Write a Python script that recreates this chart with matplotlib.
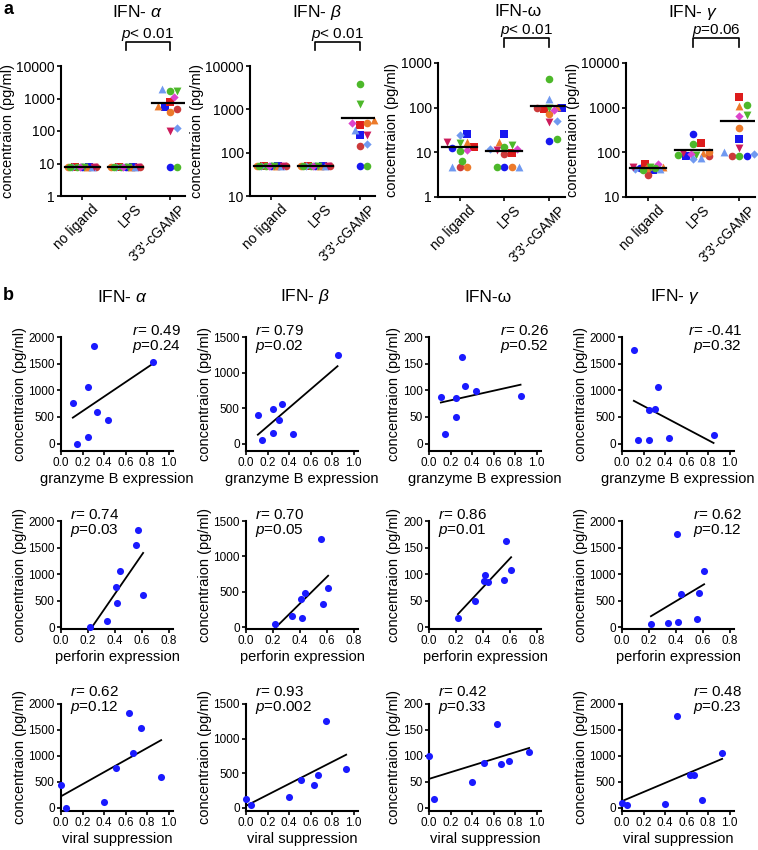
import numpy as np
import matplotlib
matplotlib.use('Agg')
from matplotlib import pyplot as plt
from matplotlib.transforms import blended_transform_factory, ScaledTranslation

plt.rcParams['font.family'] = ['Liberation Sans', 'DejaVu Sans']
plt.rcParams['mathtext.fontset'] = 'custom'
plt.rcParams['mathtext.rm'] = 'Liberation Sans'
plt.rcParams['mathtext.it'] = 'Liberation Sans:italic'
plt.rcParams['axes.linewidth'] = 1.5

W, H = 758, 850

# ---------------- panel a data (13 donors) ----------------
groups = ['no ligand', 'LPS', "3'3'-cGAMP"]
donor_colors = ['#1818f0', '#1818f0', '#dd1c1c', '#cc3a3a', '#ec7a2a', '#ec7a2a', '#4db82a',
                '#4db82a', '#dd44cc', '#7099f0', '#7099f0', '#cc1b5b', '#4db82a']
donor_markers = ['o', 's', 's', 'o', 'o', '^', 'o', 'v', 'D', '^', 'D', 'v', 'o']

ifna_noligand = [8, 8, 8, 8, 8, 8, 8, 8, 8, 8, 8, 8, 8]
ifna_lps = [8, 8, 8, 8, 8, 8, 8, 8, 8, 8, 8, 8, 8]
ifna_cgamp = [8, 550, 790, 470, 390, 580, 1700, 1700, 1100, 1900, 125, 100, 8]

ifnb_noligand = [50, 50, 50, 50, 50, 50, 50, 50, 50, 50, 50, 50, 50]
ifnb_lps = [50, 50, 50, 50, 50, 50, 50, 50, 50, 50, 50, 50, 50]
ifnb_cgamp = [50, 260, 430, 140, 480, 560, 3900, 1300, 480, 330, 160, 260, 50]

ifnw_noligand = [12.5, 26, 13.5, 4.6, 4.6, 17, 6.4, 16, 11.5, 4.6, 24, 17, 10.5]
ifnw_lps = [4.6, 26, 9.5, 9, 4.6, 17, 4.6, 14.5, 12, 4.6, 12, 11, 13]
ifnw_cgamp = [18, 100, 95, 100, 72, 105, 430, 100, 90, 155, 50, 47, 19.5]

ifng_noligand = [45, 41, 55, 31, 44, 46, 41, 48, 55, 42, 42, 47, 44]
ifng_lps = [260, 84, 160, 84, 100, 95, 150, 89, 92, 75, 72, 97, 88]
ifng_cgamp = [84, 195, 1700, 84, 355, 1100, 1150, 680, 660, 100, 92, 123, 81]

# ---------------- panel b data (8 donors) ----------------
gzm_expr = [0.31, 0.85, 0.25, 0.11, 0.33, 0.44, 0.25, 0.15]
perf_expr = [0.57, 0.555, 0.44, 0.41, 0.61, 0.415, 0.345, 0.215]
viral_supp = [0.63, 0.74, 0.67, 0.51, 0.93, 0.0, 0.40, 0.05]

ifna_conc = [1830, 1540, 1060, 760, 600, 450, 115, 0]
ifnb_conc = [330, 1250, 480, 400, 560, 135, 155, 45]
ifnw_conc = [162, 90, 85, 87, 108, 99, 49, 18]
ifng_conc = [640, 160, 625, 1760, 1060, 95, 75, 65]

stats_gzm = [('0.49', '0.24'), ('0.79', '0.02'), ('0.26', '0.52'), ('-0.41', '0.32')]
stats_perf = [('0.74', '0.03'), ('0.70', '0.05'), ('0.86', '0.01'), ('0.62', '0.12')]
stats_viral = [('0.62', '0.12'), ('0.93', '0.002'), ('0.42', '0.33'), ('0.48', '0.23')]

fig = plt.figure(figsize=(W / 100, H / 100), dpi=100)


def px_axes(left, top, right, bottom):
    return fig.add_axes([left / W, 1 - bottom / H, (right - left) / W, (bottom - top) / H])


def swarm_offsets(vals, px_dec, px_unit, size_px=6.5, step=0.055, max_off=0.33):
    y = np.log10(vals) * px_dec
    order = np.argsort(y, kind='stable')
    cands = [0.0]
    k = 1
    while k * step <= max_off + 1e-9:
        cands += [k * step, -k * step]
        k += 1
    placed = []
    offs = np.zeros(len(vals))
    for i in order:
        best, best_d = 0.0, -1
        for c in cands:
            if not placed:
                d = np.inf
            else:
                d = min(np.hypot((c - o) * px_unit, y[i] - yy) for o, yy in placed)
            if d >= size_px:
                best = c
                break
            if d > best_d:
                best, best_d = c, d
        offs[i] = best
        placed.append((best, y[i]))
    return offs


marker_size = {'o': 30, 's': 26, '^': 32, 'v': 32, 'D': 18}

# ---------------- row a ----------------
panel_a = [
    ('IFN- $\\alpha$', [ifna_noligand, ifna_lps, ifna_cgamp], (1, 10000), '$p$< 0.01'),
    ('IFN- $\\beta$', [ifnb_noligand, ifnb_lps, ifnb_cgamp], (10, 10000), '$p$< 0.01'),
    ('IFN-ω', [ifnw_noligand, ifnw_lps, ifnw_cgamp], (1, 1000), '$p$< 0.01'),
    ('IFN- $\\gamma$', [ifng_noligand, ifng_lps, ifng_cgamp], (10, 10000), '$p$=0.06'),
]
a_boxes = [(61, 66, 185, 196), (250, 66, 375, 196), (438, 63, 565, 197), (626, 63, 755, 197)]
a_title_x = [137, 317, 518, 693]

for (title, data, ylim, ptxt), box, tx in zip(panel_a, a_boxes, a_title_x):
    ax = px_axes(*box)
    ax.set_yscale('log')
    ax.set_ylim(*ylim)
    ax.set_xlim(-0.48, 2.35)
    px_dec = (box[3] - box[1]) / np.log10(ylim[1] / ylim[0])
    px_unit = (box[2] - box[0]) / 2.83
    for g, vals in enumerate(data):
        offs = swarm_offsets(vals, px_dec, px_unit)
        for i, v in enumerate(vals):
            m = donor_markers[i]
            ax.scatter(g + offs[i], v, marker=m, s=marker_size[m], color=donor_colors[i],
                       linewidths=0, zorder=3, clip_on=False)
        mean = np.mean(vals)
        ax.plot([g - 0.4, g + 0.4], [mean, mean], color='black', lw=1.6, zorder=4)
    ticks = [t for t in [1, 10, 100, 1000, 10000] if ylim[0] <= t <= ylim[1]]
    ax.set_yticks(ticks)
    ax.set_yticklabels([str(t) for t in ticks])
    ax.yaxis.set_minor_locator(matplotlib.ticker.NullLocator())
    ax.set_xticks([0, 1, 2])
    ax.set_xticklabels([])
    trans = blended_transform_factory(ax.transData, ax.transAxes)
    shift = ScaledTranslation(14 / 100, -11 / 100, fig.dpi_scale_trans)
    for g, lab in enumerate(groups):
        ax.text(g, 0, lab, transform=trans + shift, rotation=45, ha='right', va='center',
                rotation_mode='anchor', fontsize=10)
    ax.tick_params(axis='both', labelsize=10, length=3, width=1.2, pad=1.5)
    ax.spines['top'].set_visible(False)
    ax.spines['right'].set_visible(False)
    ax.set_ylabel('concentraion (pg/ml)', fontsize=10.5, labelpad=1)
    ax.plot([1, 1, 2, 2], [1.123, 1.185, 1.185, 1.123], transform=trans, color='black',
            lw=1.2, clip_on=False)
    ax.text(1.5, 1.215, ptxt, transform=trans, ha='center', va='baseline', fontsize=11)
    fig.text(tx / W, 1 - 12 / H, title, ha='center', va='center', fontsize=12.5)

fig.text(8 / W, 1 - 10 / H, 'a', fontsize=13, fontweight='bold', ha='center', va='center')
fig.text(8 / W, 1 - 296 / H, 'b', fontsize=13, fontweight='bold', ha='center', va='center')

# ---------------- row b ----------------
cyto = [ifna_conc, ifnb_conc, ifnw_conc, ifng_conc]
ytops = [2000, 1500, 200, 2000]
ysteps = [500, 500, 50, 500]
b_titles = ['IFN- $\\alpha$', 'IFN- $\\beta$', 'IFN-ω', 'IFN- $\\gamma$']
b_title_x = [122, 305, 488, 675]
b_lefts = [61, 246, 429, 622]

rows = [
    (gzm_expr, 'granzyme B expression', 1.0, stats_gzm, ['r', 'l', 'r', 'r'], 337, 451, -0.07, 1.11),
    (perf_expr, 'perforin expression', 0.8, stats_perf, ['l', 'l', 'l', 'r'], 521, 629, -0.015, 1.12),
    (viral_supp, 'viral suppression', 1.0, stats_viral, ['l', 'l', 'l', 'r'], 704, 811, -0.03, 1.18),
]

for ri, (xd, xlab, xmax, stats, sides, top, bottom, yfrac, ty) in enumerate(rows):
    for ci in range(4):
        left = b_lefts[ci]
        ax = px_axes(left, top, left + 112, bottom)
        x = np.array(xd)
        y = np.array(cyto[ci])
        ax.set_xlim(0, xmax * 1.04)
        ax.set_ylim(yfrac * ytops[ci], ytops[ci])
        ax.scatter(x, y, s=26, color='#1a1aff', linewidths=0, zorder=3, clip_on=False)
        m, b = np.polyfit(x, y, 1)
        xs = np.array([x.min(), x.max()])
        ax.plot(xs, m * xs + b, color='black', lw=1.3, zorder=2)
        ax.set_xticks(np.arange(0, xmax + 0.01, 0.2))
        ax.set_xticklabels(['%.1f' % t for t in np.arange(0, xmax + 0.01, 0.2)])
        ax.set_yticks(np.arange(0, ytops[ci] + 1, ysteps[ci]))
        ax.tick_params(axis='both', labelsize=8.5, length=3, width=1.2, pad=1.5)
        ax.spines['top'].set_visible(False)
        ax.spines['right'].set_visible(False)
        ax.set_ylabel('concentraion (pg/ml)', fontsize=10.5, labelpad=1)
        ax.set_xlabel(xlab, fontsize=10.5, labelpad=2)
        r, p = stats[ci]
        txt = '$r$= %s\n$p$=%s' % (r, p)
        if sides[ci] == 'r':
            ax.text(1.07, ty, txt, transform=ax.transAxes, ha='right', va='top',
                    fontsize=11, linespacing=1.0)
        else:
            ax.text(0.08, ty, txt, transform=ax.transAxes, ha='left', va='top',
                    fontsize=11, linespacing=1.0)
        if ri == 0:
            fig.text(b_title_x[ci] / W, 1 - 297 / H, b_titles[ci], ha='center', va='center',
                     fontsize=12.5)

fig.savefig('out.png', dpi=100)
